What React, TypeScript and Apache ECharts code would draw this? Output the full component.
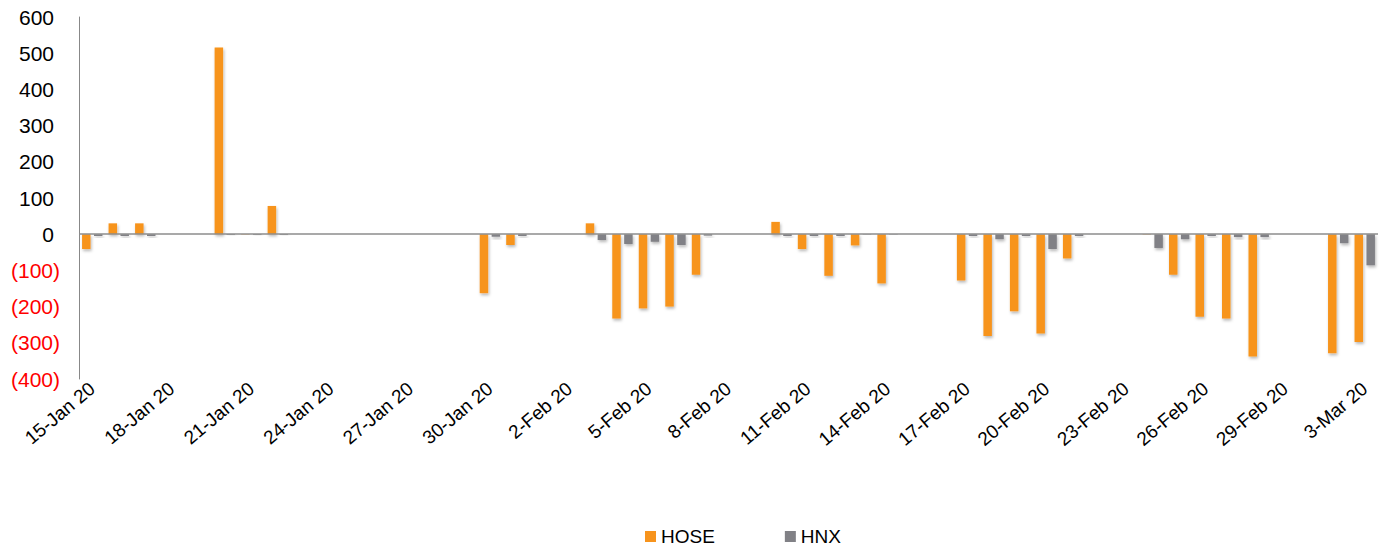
import React, { useEffect, useRef } from "react";
import * as echarts from "echarts";

const categories = [
  "15-Jan 20", "16-Jan 20", "17-Jan 20", "18-Jan 20", "19-Jan 20", "20-Jan 20", "21-Jan 20",
  "22-Jan 20", "23-Jan 20", "24-Jan 20", "25-Jan 20", "26-Jan 20", "27-Jan 20", "28-Jan 20",
  "29-Jan 20", "30-Jan 20", "31-Jan 20", "1-Feb 20", "2-Feb 20", "3-Feb 20", "4-Feb 20",
  "5-Feb 20", "6-Feb 20", "7-Feb 20", "8-Feb 20", "9-Feb 20", "10-Feb 20", "11-Feb 20",
  "12-Feb 20", "13-Feb 20", "14-Feb 20", "15-Feb 20", "16-Feb 20", "17-Feb 20", "18-Feb 20",
  "19-Feb 20", "20-Feb 20", "21-Feb 20", "22-Feb 20", "23-Feb 20", "24-Feb 20", "25-Feb 20",
  "26-Feb 20", "27-Feb 20", "28-Feb 20", "29-Feb 20", "1-Mar 20", "2-Mar 20", "3-Mar 20",
];

// null = no trading day
const hose = [
  -41, 30, 30, null, null, 516, -1,
  78, null, null, null, null, null, null,
  null, -163, -30, null, null, 30, -233,
  -205, -200, -112, null, null, 34, -41,
  -115, -31, -136, null, null, -128, -281,
  -213, -274, -67, null, null, -1, -112,
  -228, -233, -338, null, null, -329, -298,
];

const hnx = [
  -5, -5, -5, null, null, -2, -2,
  -2, null, null, null, null, null, null,
  null, -7, -5, null, null, -16, -27,
  -21, -30, -4, null, null, -5, -5,
  -5, -1, -1, null, null, -5, -14,
  -5, -41, -5, null, null, -38, -14,
  -5, -8, -8, null, null, -25, -86,
];

const Y_MIN = -400;
const Y_MAX = 600;
const Y_STEP = 100;

const FONT = "'Liberation Sans', Arial, sans-serif";

export default function App() {
  const ref = useRef<HTMLDivElement>(null);

  useEffect(() => {
    if (!ref.current) return;
    const chart = echarts.init(ref.current, null, { renderer: "svg" });
    const shadow = {
      shadowColor: "rgba(0,0,0,0.28)",
      shadowBlur: 3,
      shadowOffsetX: 1,
      shadowOffsetY: 2,
    };
    chart.setOption({
      animation: false,
      backgroundColor: "#ffffff",
      textStyle: { fontFamily: FONT },
      grid: { left: 79, right: 4, top: 17, bottom: 169, containLabel: false },
      legend: {
        left: 645,
        top: 527,
        padding: 0,
        itemWidth: 11,
        itemHeight: 11,
        itemGap: 70,
        icon: "rect",
        textStyle: { fontSize: 19, color: "#000", fontFamily: FONT, lineHeight: 19 },
        data: ["HOSE", "HNX"],
      },
      xAxis: {
        type: "category",
        data: categories,
        axisLine: { show: false, onZero: false },
        axisTick: { show: false },
        splitLine: { show: false },
        axisLabel: {
          interval: 2,
          rotate: 40,
          margin: 7,
          fontSize: 19,
          color: "#000",
          fontFamily: FONT,
        },
      },
      yAxis: {
        type: "value",
        min: Y_MIN,
        max: Y_MAX,
        interval: Y_STEP,
        axisLine: { show: true, lineStyle: { color: "#888888", width: 1 } },
        axisTick: { show: false },
        splitLine: { show: false },
        axisLabel: {
          margin: 19,
          formatter: (v: number) =>
            v < 0 ? `{n|(${Math.abs(v)})}` : `{p|${v}}`,
          rich: {
            n: { color: "#ff0000", fontSize: 21, fontFamily: FONT },
            p: { color: "#000000", fontSize: 21, fontFamily: FONT, padding: [0, 6, 0, 0] },
          },
        },
      },
      series: [
        {
          name: "HOSE",
          type: "bar",
          data: hose.map((v) => (v === null ? "-" : v)),
          barWidth: 8.5,
          barGap: "40%",
          itemStyle: { color: "#F7941D", ...shadow },
          markLine: {
            silent: true,
            symbol: "none",
            label: { show: false },
            lineStyle: { color: "#8c8c8c", width: 1.5, type: "solid" },
            data: [{ yAxis: 0 }],
          },
        },
        {
          name: "HNX",
          type: "bar",
          data: hnx.map((v) => (v === null ? "-" : v)),
          barWidth: 8.5,
          barGap: "40%",
          itemStyle: { color: "#818186", ...shadow },
        },
      ],
    });
    return () => chart.dispose();
  }, []);

  return (
    <div
      ref={ref}
      style={{ position: "absolute", left: 0, top: 0, width: 1382, height: 548 }}
    />
  );
}
